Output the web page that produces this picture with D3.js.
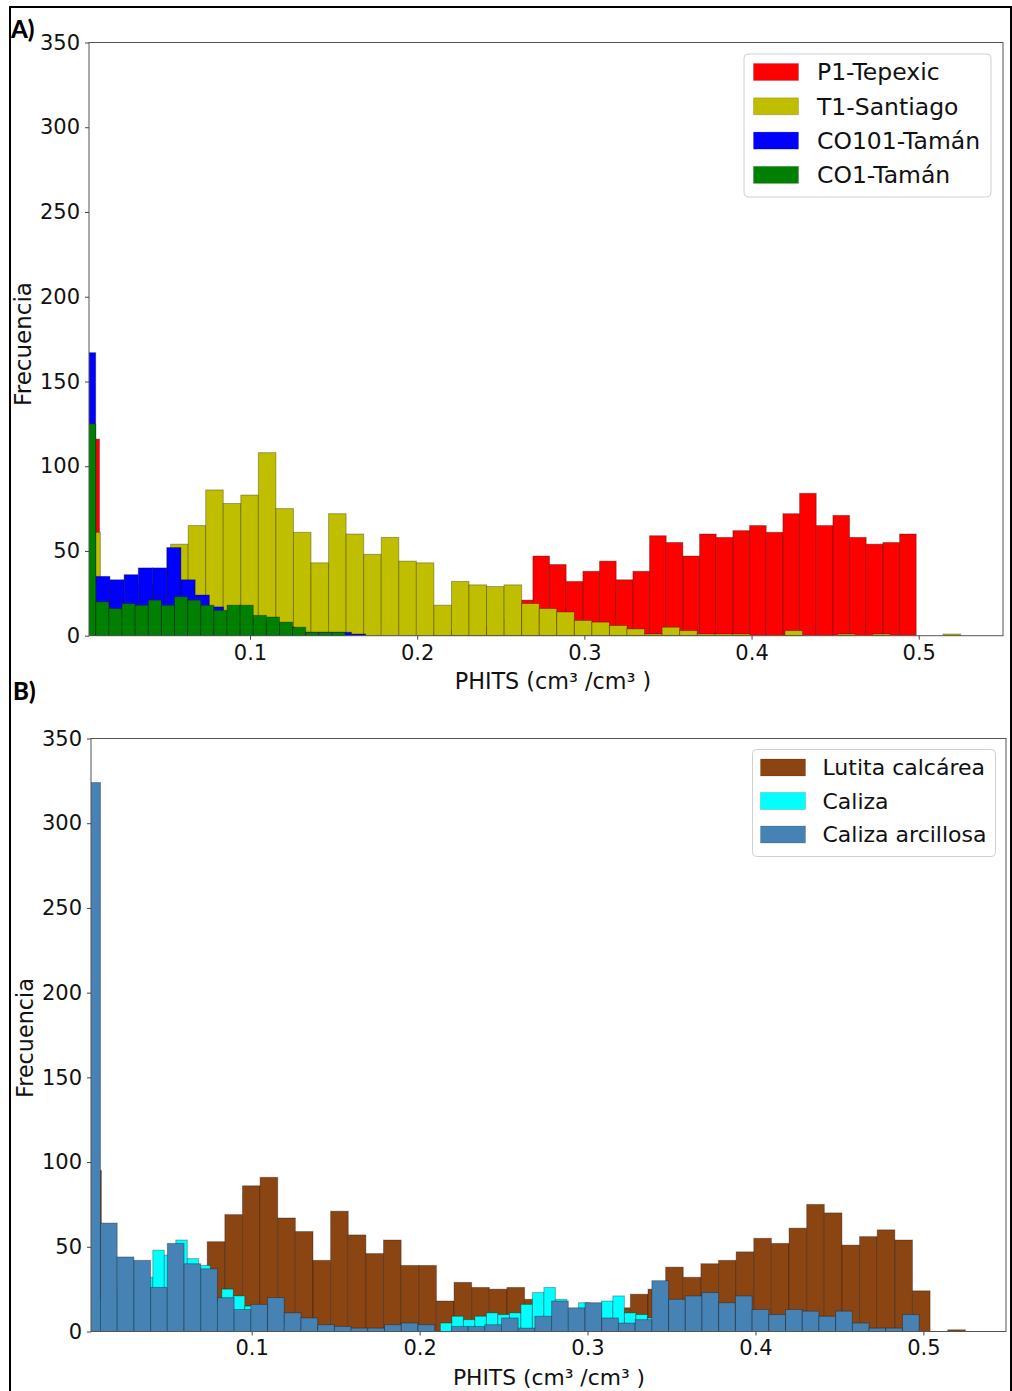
<!DOCTYPE html>
<html>
<head>
<meta charset="utf-8">
<script src="https://cdnjs.cloudflare.com/ajax/libs/d3/7.8.5/d3.min.js"></script>
<style>
  body { margin: 0; background: #fff; }
  svg { display: block; }
</style>
</head>
<body>
<div id="chart"></div>
<script>
// ---- data: panel A (per sample) ----
const namesA = ["P1-Tepexic", "T1-Santiago", "CO101-Tamán", "CO1-Tamán"];
const binStartA = [0, 0, -0.0008, -0.0001];
const binWidthA = [0.00997, 0.0105, 0.0085, 0.00785];
const countsP1 = [116, 0, 0, 0, 0, 0, 0, 0, 0, 0, 0, 0, 0, 0, 0, 0, 0, 0, 0, 0, 0,
  2, 3, 4, 6, 10, 21, 47, 42, 32, 38, 44, 33, 38, 59, 55, 47, 60, 58, 62, 65,
  61, 72, 84, 65, 71, 58, 54, 55, 60];
const countsT1 = [61, 20, 25, 30, 38, 54, 65, 86, 78, 83, 108, 75, 61, 43, 72, 60, 48,
  58, 44, 43, 18, 32, 30, 29, 30, 19, 16, 14, 9, 8, 6, 4, 1, 5, 3, 1, 1, 1, 0, 0,
  3, 0, 0, 1, 0, 1, 0, 0, 0, 1];
const countsCO101 = [167, 35, 33, 36, 40, 40, 52, 33, 24, 17, 12, 10, 9, 7, 5, 2, 2, 2, 2, 1];
const countsCO1 = [125, 20, 16, 19, 18, 21, 18, 23, 21, 18, 15, 18, 18, 12, 11, 8, 5, 2, 2, 2];
const colorsA = ["#ff0000", "#bfbf00", "#0000ff", "#008000"];

// ---- data: panel B (per lithology) ----
const namesB = ["Lutita calcárea", "Caliza", "Caliza arcillosa"];
const binStartB = [0, 0, 0];
const binWidthB = [0.0105, 0.00685, 0.00995];
const countsLutita = [95, 20, 10, 12, 15, 20, 30, 53, 69, 86, 91, 67, 59, 42, 71, 57, 46,
  54, 39, 39, 18, 29, 26, 25, 26, 19, 12, 8, 8, 10, 14, 22, 25, 38, 32, 40, 42, 47,
  55, 52, 61, 75, 70, 51, 56, 60, 54, 24, 0, 1];
const countsCaliza = [30, 20, 25, 30, 28, 32, 48, 45, 54, 43, 39, 18, 25, 21, 15, 10, 8,
  5, 3, 2, 1, 0, 0, 0, 0, 0, 0, 0, 0, 0, 0, 5, 9, 7, 9, 11, 10, 11, 16, 23, 26, 19,
  12, 17, 15, 18, 21, 11, 10, 8];
const countsArcillosa = [324, 64, 44, 42, 26, 52, 40, 37, 20, 13, 16, 20, 11, 8, 4, 3, 2,
  2, 4, 5, 4, 0, 3, 3, 4, 8, 2, 9, 18, 14, 17, 8, 5, 7, 30, 19, 21, 23, 17, 21, 13,
  10, 13, 12, 9, 12, 5, 2, 2, 10];
const colorsB = ["#8b4513", "#00ffff", "#4682b4"];

const xTicks = [0.1, 0.2, 0.3, 0.4, 0.5];
const yTicks = [0, 50, 100, 150, 200, 250, 300, 350];
const xLabel = "PHITS (cm³ /cm³ )";
const yLabel = "Frecuencia";

var W = 1012, H = 1391;
var font = "DejaVu Sans, Verdana, sans-serif";

var svg = d3.select("#chart").append("svg")
    .attr("width", W)
    .attr("height", H);

function drawPanel(p) {
    var x = d3.scaleLinear().domain(p.xDomain).range([p.left, p.right]);
    var y = d3.scaleLinear().domain([0, 350]).range([p.bottom, p.top]);

    svg.append("clipPath").attr("id", p.id + "-clip")
        .append("rect")
        .attr("x", p.left)
        .attr("y", p.top)
        .attr("width", p.right - p.left)
        .attr("height", p.bottom - p.top);

    var bars = svg.append("g").attr("clip-path", `url(#${p.id}-clip)`);

    // one histogram per series, drawn in legend order (later ones on top)
    p.counts.forEach(function (counts, s) {
        var bins = counts.map(function (n, i) {
            return {
                x0: p.starts[s] + i * p.widths[s],
                x1: p.starts[s] + (i + 1) * p.widths[s],
                n: n
            };
        }).filter(d => d.n > 0);

        bars.append("g")
            .selectAll("rect")
            .data(bins)
            .join("rect")
            .attr("x", d => x(d.x0))
            .attr("width", d => x(d.x1) - x(d.x0))
            .attr("y", d => y(d.n))
            .attr("height", d => y(0) - y(d.n))
            .attr("fill", p.colors[s])
            .attr("stroke", "rgba(0,0,0,0.3)")
            .attr("stroke-width", 1);
    });

    // spines
    svg.append("rect")
        .attr("x", p.left)
        .attr("y", p.top)
        .attr("width", p.right - p.left)
        .attr("height", p.bottom - p.top)
        .attr("fill", "none")
        .attr("stroke", "#555")
        .attr("stroke-width", 1);

    var xAxis = svg.append("g")
        .attr("transform", `translate(0,${p.bottom})`)
        .call(d3.axisBottom(x).tickValues(xTicks).tickFormat(d3.format(".1f"))
            .tickSize(4).tickSizeOuter(0).tickPadding(5));
    var yAxis = svg.append("g")
        .attr("transform", `translate(${p.left},0)`)
        .call(d3.axisLeft(y).tickValues(yTicks).tickFormat(d3.format("d"))
            .tickSize(4).tickSizeOuter(0).tickPadding(5));

    [xAxis, yAxis].forEach(function (g) {
        g.select(".domain").remove();
        g.attr("font-family", font).attr("font-size", 21);
        g.selectAll(".tick line").attr("stroke", "#444");
        g.selectAll(".tick text").attr("fill", "#111");
    });

    svg.append("text")
        .attr("x", p.xLabelX)
        .attr("y", p.xLabelY)
        .attr("text-anchor", "middle")
        .attr("font-family", font)
        .attr("font-size", p.xLabelSize)
        .attr("fill", "#111")
        .text(xLabel);

    svg.append("text")
        .attr("transform", `translate(${p.yLabelX},${p.yLabelY}) rotate(-90)`)
        .attr("text-anchor", "middle")
        .attr("font-family", font)
        .attr("font-size", p.yLabelSize)
        .attr("fill", "#111")
        .text(yLabel);

    svg.append("text")
        .attr("x", p.tagX)
        .attr("y", p.tagY)
        .attr("font-family", "Lato, Open Sans, sans-serif")
        .attr("font-weight", "900")
        .attr("font-size", 24)
        .attr("fill", "#000")
        .text(p.tag);

    // legend
    var lg = svg.append("g");
    lg.append("rect")
        .attr("x", p.legend.x)
        .attr("y", p.legend.y)
        .attr("width", p.legend.w)
        .attr("height", p.legend.h)
        .attr("rx", 4)
        .attr("fill", "#fff")
        .attr("stroke", "#d0d0d0");
    p.names.forEach(function (name, i) {
        var cy = p.legend.row0 + i * p.legend.step;
        lg.append("rect")
            .attr("x", p.legend.patchX)
            .attr("y", cy - 8.5)
            .attr("width", 45)
            .attr("height", 17)
            .attr("fill", p.colors[i])
            .attr("stroke", "rgba(0,0,0,0.15)");
        lg.append("text")
            .attr("x", p.legend.textX)
            .attr("y", cy)
            .attr("dy", "0.36em")
            .attr("font-family", font)
            .attr("font-size", p.legend.size)
            .attr("fill", "#111")
            .text(name);
    });
}

drawPanel({
    id: "A", tag: "A)", tagX: 11, tagY: 38,
    left: 89, right: 1003, top: 42.5, bottom: 635.7,
    xDomain: [0.0037, 0.5504],
    names: namesA, colors: colorsA,
    starts: binStartA, widths: binWidthA,
    counts: [countsP1, countsT1, countsCO101, countsCO1],
    xLabelX: 553, xLabelY: 689, xLabelSize: 22.3,
    yLabelX: 31, yLabelY: 344, yLabelSize: 23,
    legend: { x: 744, y: 54, w: 247, h: 143, patchX: 753.5, textX: 817, row0: 72, step: 34.3, size: 23.5 }
});

drawPanel({
    id: "B", tag: "B)", tagX: 13, tagY: 700,
    left: 91, right: 1006, top: 738.5, bottom: 1331.5,
    xDomain: [0.0043, 0.5492],
    names: namesB, colors: colorsB,
    starts: binStartB, widths: binWidthB,
    counts: [countsLutita, countsCaliza, countsArcillosa],
    xLabelX: 549, xLabelY: 1385, xLabelSize: 21.8,
    yLabelX: 33, yLabelY: 1038, yLabelSize: 22.3,
    legend: { x: 752.5, y: 749.5, w: 243, h: 107, patchX: 760.5, textX: 822.5, row0: 767.5, step: 33.5, size: 22 }
});

// outer frame of the figure
svg.append("path")
    .attr("d", `M10,${H} V7 H1011 V${H}`)
    .attr("fill", "none")
    .attr("stroke", "#000")
    .attr("stroke-width", 2);
</script>
</body>
</html>
